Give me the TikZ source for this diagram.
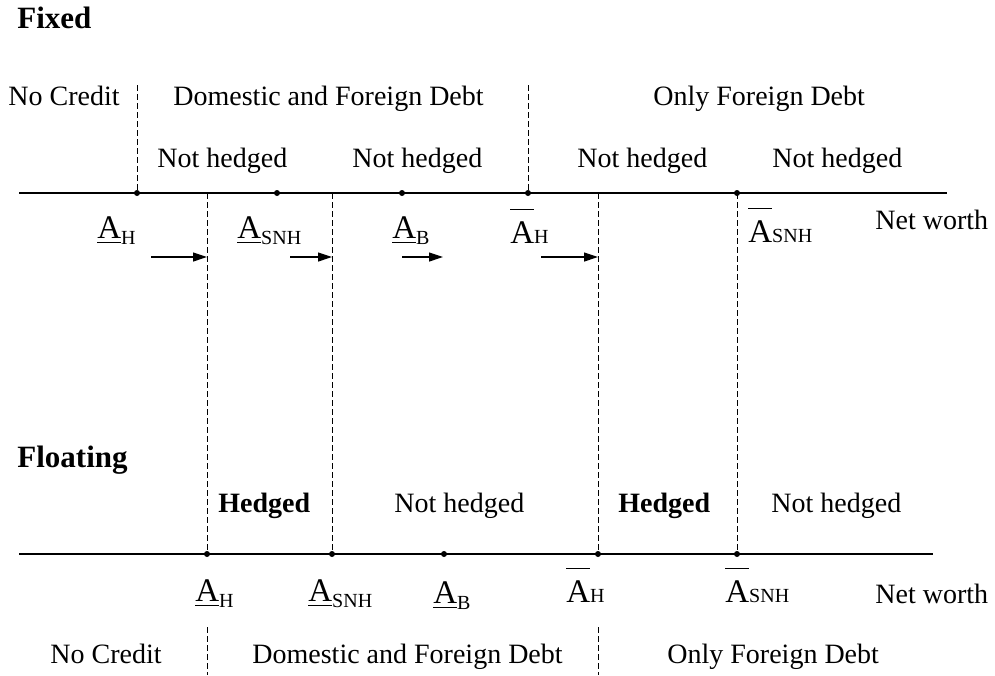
\documentclass[tikz,border=0pt]{standalone}
\usepackage{fontspec}
\setmainfont{Liberation Serif}
\usetikzlibrary{arrows.meta}
\newcommand{\Aunder}[1]{\setbox0\hbox{A}\rlap{\rule[-2.6pt]{\wd0}{0.6pt}}A\raisebox{-3pt}{\fontsize{10}{10}\selectfont #1}}
\newcommand{\Aover}[1]{\setbox0\hbox{A}\rlap{\rule[16.5pt]{\wd0}{0.6pt}}A{\fontsize{10}{10}\selectfont #1}}
\begin{document}
\begin{tikzpicture}[x=0.5pt,y=-0.5pt,
  txt/.style={font=\fontsize{14}{16}\selectfont, inner sep=0, anchor=base west},
  hd/.style={font=\bfseries\fontsize{15.5}{18}\selectfont, inner sep=0, anchor=base west},
  bt/.style={font=\bfseries\fontsize{14}{16}\selectfont, inner sep=0, anchor=base west},
  lbl/.style={font=\fontsize{16.5}{18}\selectfont, inner sep=0, anchor=base west},
  dot/.style={circle, fill, inner sep=0, minimum size=3pt},
  dsh/.style={dash pattern=on 3pt off 1.5pt, line width=0.4pt},
  axis/.style={line width=0.7pt},
  arr/.style={-{Triangle[length=7pt,width=4.5pt]}, line width=0.6pt}]
\useasboundingbox (0,0) rectangle (995,675);

% ---------------- Fixed ----------------
\node[hd] (fixed) at (17,28) {Fixed};
\node[txt] (nc1) at (8,105) {No Credit};
\node[txt] (dfd1) at (173,105) {Domestic and Foreign Debt};
\node[txt] (ofd1) at (653,105) {Only Foreign Debt};
\node[txt] (nh1) at (157,167) {Not hedged};
\node[txt] (nh2) at (352,167) {Not hedged};
\node[txt] (nh3) at (577,167) {Not hedged};
\node[txt] (nh4) at (772,167) {Not hedged};

\coordinate (l1s) at (19,193);
\coordinate (l1e) at (947,193);
\draw[axis] (l1s) -- (l1e);

\node[dot] (t1) at (137,193) {};
\node[dot] (t2) at (277,193) {};
\node[dot] (t3) at (402,193) {};
\node[dot] (t4) at (528,193) {};
\node[dot] (t5) at (737,193) {};

\coordinate (t1top) at (137,85);
\coordinate (t4top) at (528,85);
\draw[dsh] (t1top) -- (t1.center);
\draw[dsh] (t4top) -- (t4.center);

\node[lbl] (fa1) at (97,238) {\Aunder{H}};
\node[lbl] (fa2) at (237,238) {\Aunder{SNH}};
\node[lbl] (fa3) at (392,238) {\Aunder{B}};
\node[lbl] (fa4) at (510,243) {\Aover{H}};
\node[lbl] (fa5) at (748,242) {\Aover{SNH}};
\node[txt] (nw1) at (875,229) {Net worth};

% ---------------- Floating ----------------
\node[hd] (float) at (17,467) {Floating};
\node[bt] (h1) at (218,512) {Hedged};
\node[txt] (nh5) at (394,512) {Not hedged};
\node[bt] (h2) at (618,512) {Hedged};
\node[txt] (nh6) at (771,512) {Not hedged};

\coordinate (l2s) at (19,554);
\coordinate (l2e) at (933,554);
\draw[axis] (l2s) -- (l2e);

\node[dot] (b1) at (207,554) {};
\node[dot] (b2) at (332,554) {};
\node[dot] (b3) at (444,554) {};
\node[dot] (b4) at (598,554) {};
\node[dot] (b5) at (737,554) {};

% long dashed verticals
\coordinate (v1) at (207,193);
\coordinate (v2) at (332,193);
\coordinate (v4) at (598,193);
\draw[dsh] (v1) -- (b1.center);
\draw[dsh] (v2) -- (b2.center);
\draw[dsh] (v4) -- (b4.center);
\draw[dsh] (t5.center) -- (b5.center);

% arrows
\coordinate (a1s) at (151,257); \coordinate (a1e) at (207,257);
\coordinate (a2s) at (290,257); \coordinate (a2e) at (332,257);
\coordinate (a3s) at (402,257); \coordinate (a3e) at (443,257);
\coordinate (a4s) at (541,257); \coordinate (a4e) at (598,257);
\draw[arr] (a1s) -- (a1e);
\draw[arr] (a2s) -- (a2e);
\draw[arr] (a3s) -- (a3e);
\draw[arr] (a4s) -- (a4e);

\node[lbl] (ga1) at (195,601) {\Aunder{H}};
\node[lbl] (ga2) at (308,601) {\Aunder{SNH}};
\node[lbl] (ga3) at (433,603) {\Aunder{B}};
\node[lbl] (ga4) at (566,602) {\Aover{H}};
\node[lbl] (ga5) at (725,602) {\Aover{SNH}};
\node[txt] (nw2) at (875,603) {Net worth};

\coordinate (d1s) at (207,627); \coordinate (d1e) at (207,675);
\coordinate (d2s) at (598,627); \coordinate (d2e) at (598,675);
\draw[dsh] (d1s) -- (d1e);
\draw[dsh] (d2s) -- (d2e);

\node[txt] (nc2) at (50,663) {No Credit};
\node[txt] (dfd2) at (252,663) {Domestic and Foreign Debt};
\node[txt] (ofd2) at (667,663) {Only Foreign Debt};
\end{tikzpicture}
\end{document}
